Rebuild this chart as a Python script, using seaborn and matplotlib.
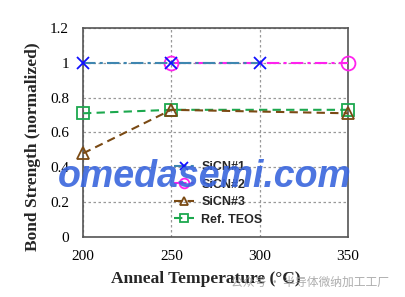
import matplotlib
matplotlib.use("Agg")
import matplotlib.pyplot as plt
import seaborn as sns
import pandas as pd

# data
sicn1_x = [200, 250, 300]
sicn1_y = [1.0, 1.0, 1.0]
sicn2_x = [250, 350]
sicn2_y = [1.0, 1.0]
sicn3_x = [200, 250, 350]
sicn3_y = [0.48, 0.73, 0.71]
teos_x = [200, 250, 350]
teos_y = [0.71, 0.73, 0.73]
x_ticks = [200, 250, 300, 350]
y_ticks = [0, 0.2, 0.4, 0.6, 0.8, 1.0, 1.2]
y_tick_labels = ["0", "0.2", "0.4", "0.6", "0.8", "1", "1.2"]

sns.set_theme(style="white")
plt.rcParams['font.family'] = ['Liberation Serif', 'DejaVu Serif']

fig = plt.figure(figsize=(4.05, 2.97), dpi=100)
ax = fig.add_axes([0.205, 0.202, 0.654, 0.704])

series = [
    (teos_x, teos_y, "Ref. TEOS", "#1ca84e", "s", (0, (4, 2.5)), "#1ca84e", 8),
    (sicn3_x, sicn3_y, "SiCN#3", "#7a4a14", "^", (0, (4, 2.5)), "#7a4a14", 8),
    (sicn2_x, sicn2_y, "SiCN#2", "#ff22ee", "o", (0, (6, 2, 1.5, 2)), "#ff22ee", 10),
    (sicn1_x, sicn1_y, "SiCN#1", "#3f86b0", "x", (0, (6, 2, 1.5, 2)), "#1010ff", 8),
]
for xs, ys, lab, col, mk, ls, mcol, ms in series:
    df = pd.DataFrame({"x": xs, "y": ys})
    sns.lineplot(data=df, x="x", y="y", ax=ax, color=col, marker=mk,
                 linestyle=ls, linewidth=1.5, markersize=ms,
                 markerfacecolor="none", markeredgecolor=mcol,
                 markeredgewidth=1.3, label=lab, clip_on=False, zorder=3)

ax.set_xlim(200, 350)
ax.set_ylim(0, 1.2)
ax.set_xticks(x_ticks)
ax.set_xticklabels([str(v) for v in x_ticks])
ax.set_yticks(y_ticks)
ax.set_yticklabels(y_tick_labels)
ax.tick_params(axis="both", length=0, labelsize=11, colors="black")
ax.tick_params(axis="x", pad=9)
ax.tick_params(axis="y", pad=10)
ax.grid(True, linestyle=(0, (2, 2)), color="#999999", linewidth=0.9)
for s in ax.spines.values():
    s.set_color("#555555")
    s.set_linewidth(1.2)

ax.set_xlabel("Anneal Temperature (°C)", fontsize=12.5, fontweight="bold")
ax.set_ylabel("Bond Strength (normalized)", fontsize=12.5, fontweight="bold")
ax.xaxis.set_label_coords(0.462, -0.162)
ax.yaxis.set_label_coords(-0.16, 0.43)

handles, labels = ax.get_legend_handles_labels()
order = ["SiCN#1", "SiCN#2", "SiCN#3", "Ref. TEOS"]
hmap = dict(zip(labels, handles))
leg = ax.legend([hmap[o] for o in order], order, loc="lower left",
                bbox_to_anchor=(0.30, 0.0), frameon=False,
                prop={"family": "Liberation Sans", "size": 9, "weight": "bold"},
                handlelength=1.6, labelspacing=0.45, handletextpad=0.6,
                markerscale=0.7)

fig.text(0.505, 0.405, "omedasemi.com", fontsize=27, fontweight="bold",
         fontstyle="italic", family="Liberation Sans", color="#3a66dd",
         alpha=0.9, ha="center", va="center", zorder=10)
fig.text(0.96, 0.05, "公众号 · 半导体微纳加工工厂", fontsize=8.5,
         family=["Noto Sans CJK SC", "DejaVu Sans"], color="#999999",
         alpha=0.8, ha="right", va="center", zorder=0)

fig.savefig("out.png", dpi=100)
